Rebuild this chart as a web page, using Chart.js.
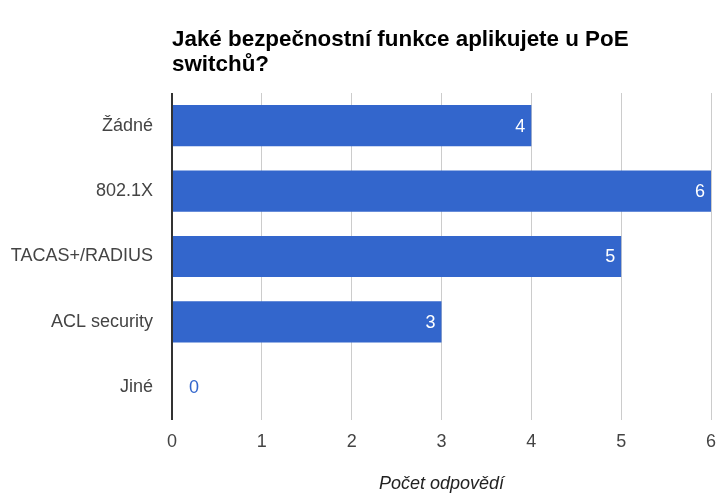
<!DOCTYPE html>
<html>
<head>
<meta charset="utf-8">
<script src="https://cdn.jsdelivr.net/npm/chart.js@4"></script>
<style>
  html, body { margin: 0; padding: 0; background: #fff; }
  #wrap { width: 717px; height: 493px; }
</style>
</head>
<body>
<div id="wrap"><canvas id="c" width="717" height="493"></canvas></div>
<script>
const categories = ['Žádné', '802.1X', 'TACAS+/RADIUS', 'ACL security', 'Jiné'];
const responses = [4, 6, 5, 3, 0];
const xTicks = [0, 1, 2, 3, 4, 5, 6];
const titleLines = ['Jaké bezpečnostní funkce aplikujete u PoE', 'switchů?'];
const xAxisTitle = 'Počet odpovědí';

const FONT = "Arial, 'Liberation Sans', sans-serif";
const BAR = '#3366cc';

const titlePlugin = {
  id: 'leftTitle',
  afterDraw(chart) {
    const ctx = chart.ctx;
    ctx.save();
    ctx.font = 'bold 22.4px ' + FONT;
    ctx.fillStyle = '#000';
    ctx.textAlign = 'left';
    ctx.textBaseline = 'alphabetic';
    titleLines.forEach((t, i) => ctx.fillText(t, chart.chartArea.left, 46 + i * 25));
    ctx.restore();
  }
};

const labelPlugin = {
  id: 'barLabels',
  afterDatasetsDraw(chart) {
    const ctx = chart.ctx;
    const meta = chart.getDatasetMeta(0);
    ctx.save();
    ctx.font = '18px ' + FONT;
    ctx.textBaseline = 'middle';
    meta.data.forEach((bar, i) => {
      const v = responses[i];
      if (v > 0) {
        ctx.fillStyle = '#ffffff';
        ctx.textAlign = 'right';
        ctx.fillText(String(v), bar.x - 6, bar.y + 1);
      } else {
        ctx.fillStyle = BAR;
        ctx.textAlign = 'left';
        ctx.fillText(String(v), bar.x + 17, bar.y + 1);
      }
    });
    ctx.restore();
  }
};

new Chart(document.getElementById('c'), {
  type: 'bar',
  data: {
    labels: categories,
    datasets: [{
      data: responses,
      backgroundColor: BAR,
      borderWidth: 0,
      barPercentage: 0.63,
      categoryPercentage: 1.0
    }]
  },
  options: {
    indexAxis: 'y',
    responsive: false,
    animation: false,
    layout: { padding: { left: 0, right: 6, top: 93, bottom: 0 } },
    plugins: {
      legend: { display: false },
      tooltip: { enabled: false },
      title: { display: false }
    },
    scales: {
      y: {
        type: 'category',
        grid: { display: false, drawTicks: false },
        border: { display: false },
        ticks: { font: { family: FONT, size: 18 }, color: '#444', padding: 19 },
        afterFit(scale) { scale.width = 172; scale.paddingTop = 0; scale.paddingBottom = 0; }
      },
      x: {
        type: 'linear',
        min: xTicks[0],
        max: xTicks[xTicks.length - 1],
        afterBuildTicks(scale) { scale.ticks = xTicks.map(v => ({ value: v })); },
        grid: {
          drawTicks: false,
          color: ctx => (ctx.tick && ctx.tick.value === 0) ? '#333333' : '#cccccc',
          lineWidth: ctx => (ctx.tick && ctx.tick.value === 0) ? 2 : 1
        },
        border: { display: false },
        ticks: { font: { family: FONT, size: 18 }, color: '#444', padding: 11 },
        title: {
          display: true,
          text: xAxisTitle,
          font: { family: FONT, size: 18, style: 'italic' },
          color: '#222',
          padding: { top: 0, bottom: -2 }
        },
        afterFit(scale) { scale.height = 73; scale.paddingLeft = 0; scale.paddingRight = 0; }
      }
    }
  },
  plugins: [titlePlugin, labelPlugin]
});
</script>
</body>
</html>
